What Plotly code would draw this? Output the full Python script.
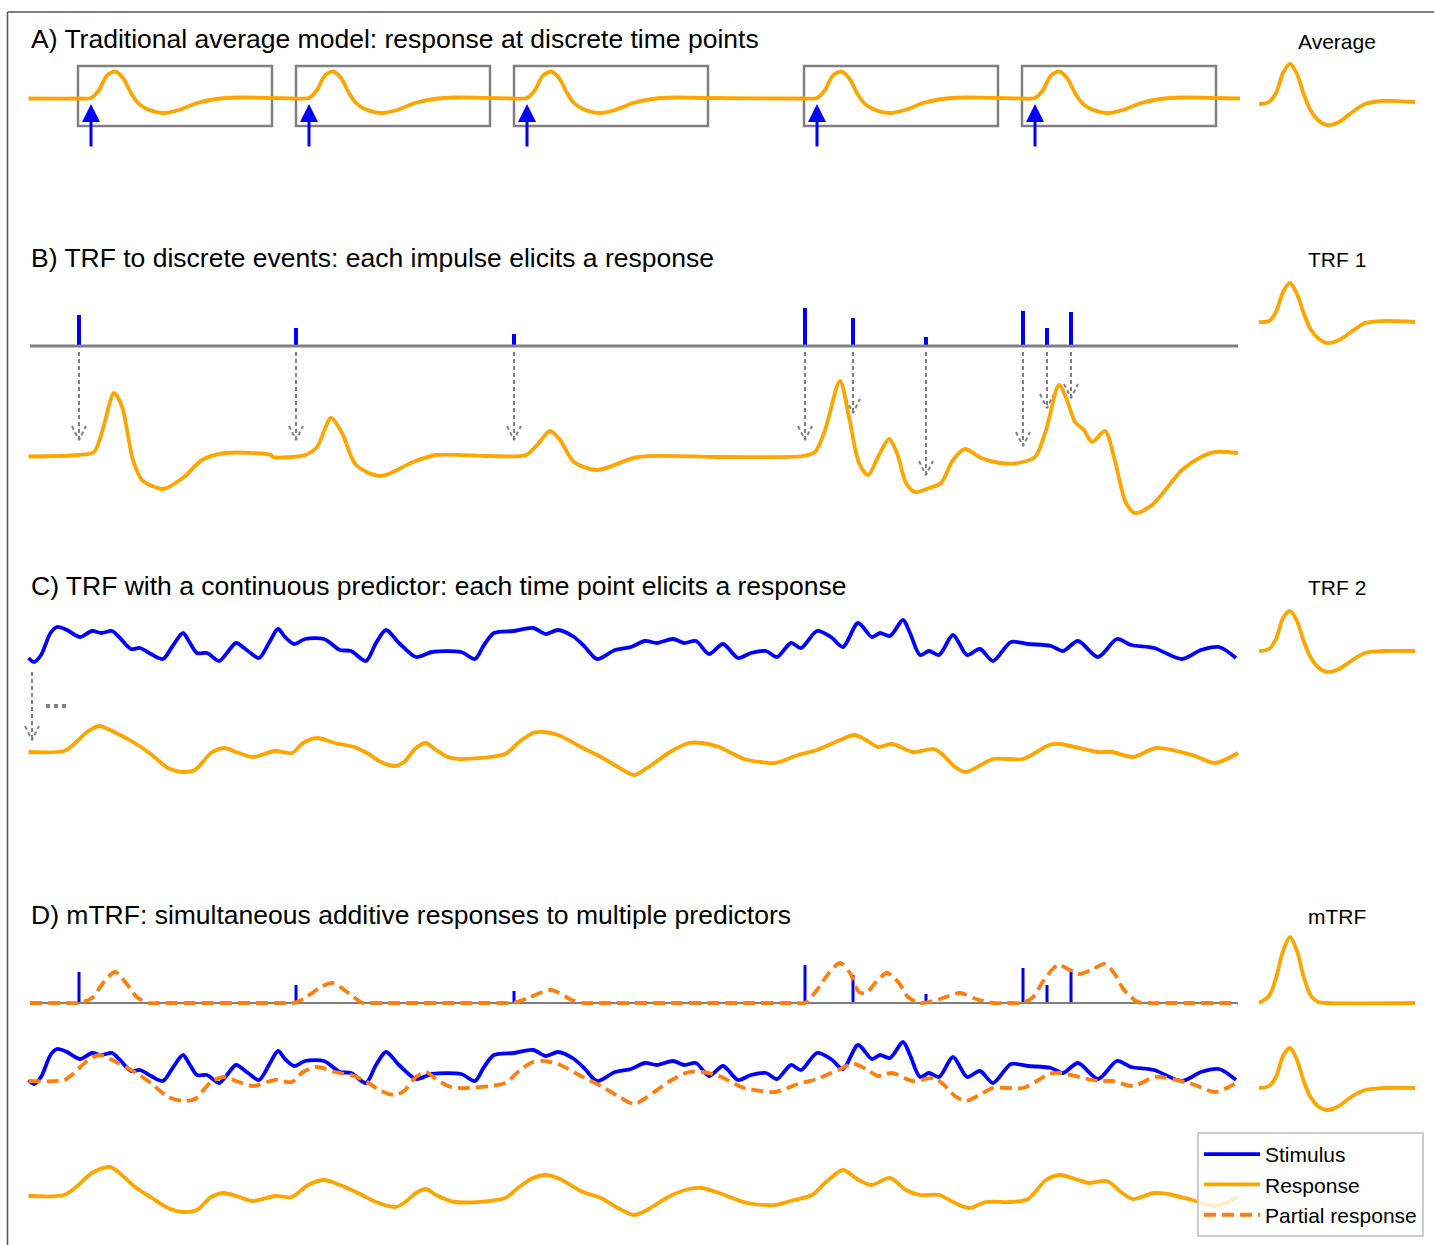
import plotly.graph_objects as go

W, H = 1434, 1245
BLUE = "#0000ff"
ORANGE = "#ffa500"
PARTIAL = "#ff7f0e"
GRAY = "#808080"
FONT = "Liberation Sans, Arial, Helvetica, sans-serif"

# ---------------- data (time in samples, amplitude in a.u.) ----------------
# A) averaged epochs
a_events = [61, 279, 497, 787, 1005]
a_lag = [-13, 0, 8, 15.5, 24, 32, 40, 47, 56, 72, 88, 106, 125, 148, 181]
a_amp = [0, 0.5, 8.5, 22.5, 27, 20.5, 5.5, -4.5, -10.5, -14.5, -11.5, -4.5, -0.5, 1, 0.5]
a_window = (-13, 181)

# B) discrete impulses
events = [49, 266, 484, 775, 823, 896, 993, 1017, 1041]
impulse_amp = [31, 18, 12, 38, 28, 9, 35, 18, 34]
arrow_tip_b = [16.5, 16.5, 16.5, 16.5, 43.5, -18.5, 10.5, 48.5, 58.5]

resp_b_t = [-1.5, 48, 64, 73, 84, 92, 103, 112, 133, 154, 172, 195, 241, 243, 275,
            287, 301, 312, 326, 351, 383, 406, 459, 496, 507, 520, 530, 544, 567, 608,
            690, 773, 785, 795, 810, 819, 829, 838, 848, 859, 867, 876, 885, 899, 911,
            923, 935, 951, 970, 988, 1005, 1016, 1029, 1037, 1045, 1054, 1062, 1075, 1084, 1096,
            1105, 1122, 1152, 1171, 1185, 1208]
resp_b = [0, 1.5, 4.5, 28, 63.5, 50, -3.5, -23.5, -32.5, -20.5, -3.5, 3.5, 1.5, -0.5, 1.5,
          9.5, 38.5, 23.5, -8.5, -19.5, -5.5, 1.5, 0.5, 1.5, 11.5, 25.5, 16.5, -5.5, -13.5, -0.5,
          -0.5, 0.5, 4.5, 26.5, 75.5, 39.5, -6.5, -18.5, -0.5, 17.5, 3.5, -26.5, -35.5, -31.5, -26.5,
          -3.5, 7.5, -1.5, -6.5, -6.5, -0.5, 26.5, 71.5, 56.5, 34.5, 26.5, 14.5, 25.5, -0.5, -46.5,
          -56.5, -48.5, -13.5, -0.5, 4.5, 3.5]

# C) continuous stimulus and its response
stim_t = [-1.5, 4, 11, 20.5, 27, 37, 50, 62, 71, 82, 89, 101, 110, 121, 133, 142, 153, 160,
          167, 177, 189, 197, 206, 218, 229, 239, 248, 255, 264, 275, 294, 310, 321, 336, 346,
          356, 369, 386, 402, 431, 445, 454, 464, 484, 503, 516, 528, 544, 555, 567, 585, 601,
          615, 627, 643, 654, 666, 679, 693, 708, 721, 736, 747, 761, 771, 787, 801, 813, 828,
          842, 850, 860, 873, 880, 890, 899, 909, 923, 937, 950, 963, 981, 998, 1021, 1033,
          1048, 1068, 1087, 1101, 1124, 1152, 1171, 1189, 1206]
stim = [0, -4, 3, 25, 31, 28, 21, 27, 25, 27, 21, 9, 10, 4, -1, 11, 25, 15,
        5, 5, -3, 5, 15, 7, 0, 15, 29, 21, 14, 19, 19, 8, 7, -3, 15,
        28, 15, 1, 6, 6, -1, 13, 25, 27, 30, 24, 28, 21, 11, -1, 8, 11,
        17, 15, 19, 15, 17, 4, 14, 0, 5, 7, 1, 15, 10, 27, 21, 11, 35,
        21, 25, 22, 38, 25, 3, 7, 3, 23, 3, 9, -3, 16, 14, 12, 7,
        17, 1, 19, 13, 10, -1, 8, 11, 0]

resp_c_t = [-1.5, 34, 43, 57, 69, 80, 108, 122, 138, 154, 165, 181, 194, 209, 223, 245,
            262, 273, 287, 305, 324, 337, 351, 365, 374, 386, 396, 406, 418, 429, 475, 489,
            503, 514, 528, 553, 571, 588, 604, 617, 640, 659, 672, 689, 714, 731, 745, 768,
            787, 810, 824, 836, 848, 862, 883, 904, 913, 925, 936, 951, 963, 993, 1005, 1019,
            1030, 1068, 1082, 1103, 1126, 1162, 1185, 1208]
resp_c = [0, 1, 7, 20, 26, 22, 7, -3, -16, -20, -18, -1, 4, -1, -5, 1,
          -1, 9, 14, 9, 5, -1, -10, -14, -10, 4, 9, 2, -5, -7, -2, 10,
          19, 20, 17, 4, -5, -15, -23, -16, 0, 9, 9, 5, -7, -10, -11, -3,
          2, 12, 17, 12, 5, 8, 0, 3, -3, -15, -20, -13, -7, -7, -1, 7,
          8, 0, 0, -5, 4, -3, -11, -1]

# D) mTRF: partial response to impulses and summed response
partial_t = [0, 40, 48, 62, 73, 85, 96, 108, 119, 128, 256, 264, 275, 291, 303, 317, 333,
             342, 476, 484, 498, 521, 542, 553, 562, 767, 775, 787, 799, 810, 820, 829, 836,
             846, 857, 869, 878, 890, 899, 913, 930, 946, 963, 972, 983, 991, 1002, 1014, 1028,
             1040, 1049, 1061, 1075, 1084, 1094, 1108, 1119, 1128, 1208]
partial = [0, 0, 0, 5, 20, 31, 20, 5, 0, 0, 0, 0, 5, 16, 20, 11, 0,
           0, 0, 0, 5, 13, 3, 0, 0, 0, 0, 13, 30, 40, 30, 11, 10,
           21, 30, 20, 6, 0, 1, 5, 10, 4, 0, 0, 0, 0, 5, 23, 38,
           33, 29, 33, 39, 30, 13, 1, 0, 0, 0]

resp_d_t = [-1.5, 34, 46, 62, 80, 94, 105, 122, 138, 154, 167, 181, 194, 209, 223, 245,
            262, 278, 294, 310, 328, 346, 365, 374, 386, 396, 406, 425, 475, 489, 503, 516,
            530, 553, 571, 588, 604, 617, 640, 659, 672, 689, 717, 745, 764, 782, 796, 813,
            827, 841, 860, 876, 890, 909, 923, 939, 956, 981, 998, 1016, 1030, 1045, 1059,
            1077, 1091, 1103, 1124, 1138, 1162, 1185, 1208]
resp_d = [0, 1, 9, 23, 29, 19, 9, -2, -12, -16, -14, -1, 3, -1, -5, 0,
          -1, 11, 16, 11, 3, -6, -11, -7, 3, 7, 1, -6, -2, 9, 18, 21,
          17, 4, -2, -12, -19, -14, 0, 7, 8, 3, -7, -9, -4, 1, 14, 26,
          17, 11, 18, 6, 1, 1, -6, -12, -6, -6, -3, 16, 21, 17, 13,
          15, 4, -3, 3, 2, -4, -10, -1]

# kernels (lag in samples)
k_lag = [0, 10, 17, 24, 31, 38, 45, 52, 60, 68, 80, 92, 106, 124, 156]
k_average = [-1, 1, 10, 30, 39, 29, 8, -8, -18, -22, -19, -10, -1, 2, 1]
k_trf1 = [0, 1, 10, 30, 39, 28, 8, -8, -17, -21, -18, -10, -1, 1, 0]
k_trf2 = [0, 2, 12, 33, 40, 30, 9, -7, -17, -21, -18, -10, -2, 0, 0]
k_mtrf2 = [0, 2, 11, 32, 40, 28, 6, -10, -19, -22, -18, -9, -2, 0, 0]
k_lag_m1 = [0, 10, 17, 24, 31, 38, 45, 52, 59, 68, 156]
k_mtrf1 = [0, 7, 25, 52, 66, 52, 25, 7, 1, 0, 0]

titles = [
    "A) Traditional average model: response at discrete time points",
    "B) TRF to discrete events: each impulse elicits a response",
    "C) TRF with a continuous predictor: each time point elicits a response",
    "D) mTRF: simultaneous additive responses to multiple predictors",
]
kernel_labels = ["Average", "TRF 1", "TRF 2", "mTRF"]

# ---------------- layout helpers ----------------
# pixel row of the zero line for each y axis
BASE = {
    "y": 98.5, "y2": 103, "y3": 346, "y4": 456.5, "y5": 322, "y6": 658, "y7": 752,
    "y8": 651, "y9": 1003, "y10": 1080, "y11": 1081, "y12": 1088, "y13": 1196,
}
T_END = 1210
LW = 3.8


def line(x, y, yaxis, color=ORANGE, width=LW, xaxis="x", dash=None, name=None, legend=False, rank=None):
    return go.Scatter(
        x=x, y=y, xaxis=xaxis, yaxis=yaxis, mode="lines", name=name,
        showlegend=legend, legendrank=rank, hoverinfo="skip",
        line=dict(color=color, width=width, dash=dash, shape="spline", smoothing=0.8),
    )


def dotted_arrows(xs, tops, tips, yaxis, head_w=7, head_h=14):
    x, y = [], []
    for xi, top, tip in zip(xs, tops, tips):
        x += [xi, xi, None, xi - head_w, xi, xi + head_w, None]
        y += [top, tip, None, tip + head_h, tip, tip + head_h, None]
    return go.Scatter(x=x, y=y, yaxis=yaxis, mode="lines", showlegend=False, hoverinfo="skip",
                      line=dict(color=GRAY, width=2, dash="4px,3px"))


fig = go.Figure()

# A
ax_t, ax_y = [-1.5], [0]
for e in a_events:
    ax_t += [e + l for l in a_lag]
    ax_y += a_amp
ax_t.append(T_END)
ax_y.append(0)
fig.add_trace(line(ax_t, ax_y, "y"))
fig.add_trace(line(k_lag, k_average, "y2", xaxis="x2"))

# B
fig.add_trace(go.Bar(x=events, y=impulse_amp, yaxis="y3", width=4, offset=-2,
                     marker=dict(color=BLUE, line=dict(width=0)), showlegend=False, hoverinfo="skip"))
fig.add_trace(go.Scatter(x=[0, 1208], y=[0, 0], yaxis="y3", mode="lines", showlegend=False,
                         hoverinfo="skip", line=dict(color=GRAY, width=3)))
fig.add_trace(dotted_arrows(events, [104.5] * len(events), arrow_tip_b, "y4"))
fig.add_trace(line(resp_b_t, resp_b, "y4"))
fig.add_trace(line(k_lag, k_trf1, "y5", xaxis="x2"))

# C
fig.add_trace(line(stim_t, stim, "y6", color=BLUE, name="Stimulus", legend=True, rank=1))
fig.add_trace(dotted_arrows([2], [80], [12], "y7"))
fig.add_trace(go.Scatter(x=[16, 37], y=[46, 46], yaxis="y7", mode="lines", showlegend=False,
                         hoverinfo="skip", line=dict(color=GRAY, width=4, dash="4px,4px")))
fig.add_trace(line(resp_c_t, resp_c, "y7", name="Response", legend=True, rank=2))
fig.add_trace(line(k_lag, k_trf2, "y8", xaxis="x2"))

# D
fig.add_trace(go.Bar(x=events, y=impulse_amp, yaxis="y9", width=3, offset=-1.5,
                     marker=dict(color=BLUE, line=dict(width=0)), showlegend=False, hoverinfo="skip"))
fig.add_trace(go.Scatter(x=[0, 1208], y=[0, 0], yaxis="y9", mode="lines", showlegend=False,
                         hoverinfo="skip", line=dict(color=GRAY, width=2)))
fig.add_trace(line(partial_t, partial, "y9", color=PARTIAL, dash="12px,6px",
                   name="Partial response", legend=True, rank=3))
fig.add_trace(line(k_lag_m1, k_mtrf1, "y9", xaxis="x2"))
fig.add_trace(line(stim_t, stim, "y10", color=BLUE))
fig.add_trace(line(resp_c_t, resp_c, "y11", color=PARTIAL, dash="12px,6px"))
fig.add_trace(line(k_lag, k_mtrf2, "y12", xaxis="x2"))
fig.add_trace(line(resp_d_t, resp_d, "y13"))

layout_axes = {
    "xaxis": dict(domain=[0, 1], range=[-30, W - 30], visible=False, fixedrange=True),
    "xaxis2": dict(domain=[1259 / W, 1415 / W], range=[0, 156], visible=False,
                   fixedrange=True, anchor="y"),
}
for key, base in BASE.items():
    name = "yaxis" if key == "y" else "yaxis" + key[1:]
    layout_axes[name] = dict(domain=[0, 1], range=[base - H, base], visible=False,
                             fixedrange=True, anchor="x")

shapes = [
    dict(type="line", xref="paper", yref="paper", x0=7.5 / W, x1=1, y0=1 - 12 / H, y1=1 - 12 / H,
         line=dict(color="#555555", width=1.5)),
    dict(type="line", xref="paper", yref="paper", x0=7.5 / W, x1=7.5 / W, y0=0, y1=1 - 12 / H,
         line=dict(color="#555555", width=1.5)),
]
for e in a_events:
    shapes.append(dict(type="rect", xref="x", yref="y", x0=e + a_window[0], x1=e + a_window[1],
                       y0=-27.5, y1=32.5, line=dict(color=GRAY, width=2.5), layer="below"))

annotations = []
for e in a_events:
    annotations.append(dict(x=e, y=-5.5, ax=e, ay=-49.5, xref="x", yref="y", axref="x", ayref="y",
                            text="", showarrow=True, arrowhead=2, arrowsize=1.2, arrowwidth=3,
                            arrowcolor=BLUE, standoff=0))
for text, yp in zip(titles, [39, 258, 586, 915]):
    annotations.append(dict(text=text, x=29 / W, y=1 - yp / H, xref="paper", yref="paper",
                            xanchor="left", yanchor="middle", showarrow=False,
                            font=dict(size=26.5, color="black", family=FONT)))
for text, yp in zip(kernel_labels, [41, 259, 587, 916]):
    annotations.append(dict(text=text, x=1337 / W, y=1 - yp / H, xref="paper", yref="paper",
                            xanchor="center", yanchor="middle", showarrow=False,
                            font=dict(size=21, color="black", family=FONT)))

fig.update_layout(
    width=W, height=H, autosize=False,
    margin=dict(l=0, r=0, t=0, b=0),
    paper_bgcolor="white", plot_bgcolor="rgba(0,0,0,0)",
    shapes=shapes, annotations=annotations,
    legend=dict(x=1197 / W, y=1 - 1132 / H, xanchor="left", yanchor="top",
                bgcolor="rgba(255,255,255,0.8)", bordercolor="#cccccc", borderwidth=2,
                font=dict(size=21, color="black", family=FONT), itemwidth=56,
                tracegroupgap=3),
    **layout_axes,
)

fig.write_html("out.html", config={"displayModeBar": False},
               post_script="document.body.style.margin='0px';")
